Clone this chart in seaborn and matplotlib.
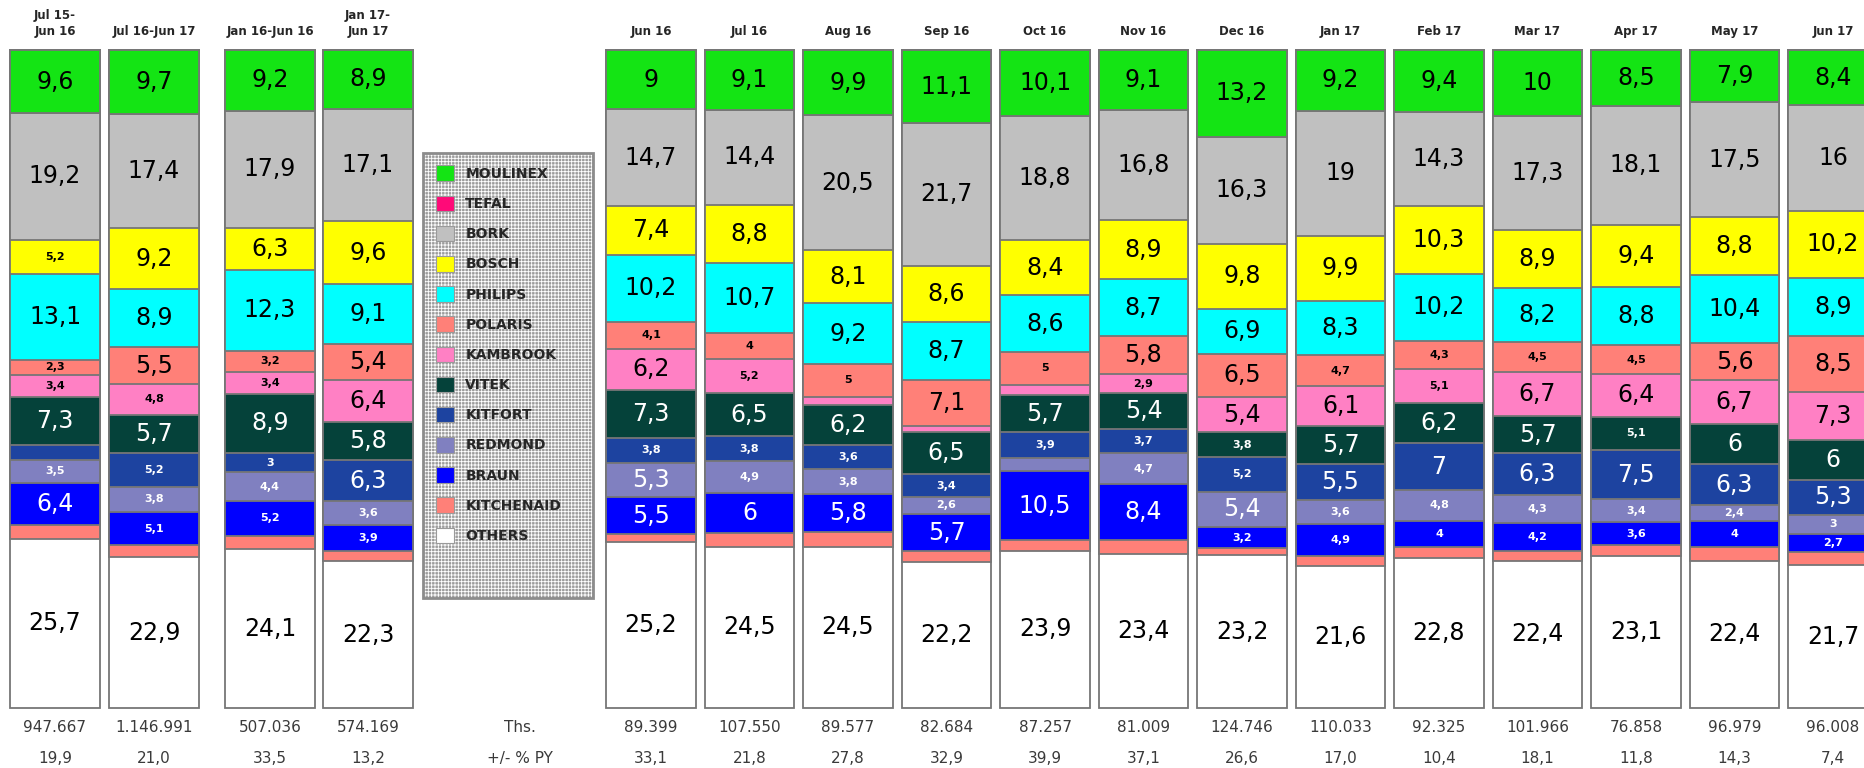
import numpy as np
import pandas as pd
import seaborn as sns
import matplotlib.pyplot as plt
from matplotlib.patches import Patch, Rectangle


periods = ["Jul 15-\nJun 16", "Jul 16-Jun 17", "Jan 16-Jun 16", "Jan 17-\nJun 17",
           "Jun 16", "Jul 16", "Aug 16", "Sep 16", "Oct 16", "Nov 16", "Dec 16",
           "Jan 17", "Feb 17", "Mar 17", "Apr 17", "May 17", "Jun 17"]

brands = ["MOULINEX", "TEFAL", "BORK", "BOSCH", "PHILIPS", "POLARIS", "KAMBROOK",
          "VITEK", "KITFORT", "REDMOND", "BRAUN", "KITCHENAID", "OTHERS"]
colors = ["#14e414", "#ff0a78", "#c0c0c0", "#ffff00", "#00ffff", "#ff8078", "#ff80c4",
          "#05423a", "#1d43a0", "#8080c0", "#0000ff", "#ff8078", "#ffffff"]

# market shares in %, top to bottom of each bar
moulinex = [9.6, 9.7, 9.2, 8.9, 9.0, 9.1, 9.9, 11.1, 10.1, 9.1, 13.2, 9.2, 9.4, 10.0, 8.5, 7.9, 8.4]
tefal = [0, 0, 0, 0, 0, 0, 0, 0, 0, 0, 0, 0, 0, 0, 0, 0, 0]
bork = [19.2, 17.4, 17.9, 17.1, 14.7, 14.4, 20.5, 21.7, 18.8, 16.8, 16.3, 19.0, 14.3, 17.3, 18.1, 17.5, 16.0]
bosch = [5.2, 9.2, 6.3, 9.6, 7.4, 8.8, 8.1, 8.6, 8.4, 8.9, 9.8, 9.9, 10.3, 8.9, 9.4, 8.8, 10.2]
philips = [13.1, 8.9, 12.3, 9.1, 10.2, 10.7, 9.2, 8.7, 8.6, 8.7, 6.9, 8.3, 10.2, 8.2, 8.8, 10.4, 8.9]
polaris = [2.3, 5.5, 3.2, 5.4, 4.1, 4.0, 5.0, 7.1, 5.0, 5.8, 6.5, 4.7, 4.3, 4.5, 4.5, 5.6, 8.5]
kambrook = [3.4, 4.8, 3.4, 6.4, 6.2, 5.2, 1.2, 0.8, 1.5, 2.9, 5.4, 6.1, 5.1, 6.7, 6.4, 6.7, 7.3]
vitek = [7.3, 5.7, 8.9, 5.8, 7.3, 6.5, 6.2, 6.5, 5.7, 5.4, 3.8, 5.7, 6.2, 5.7, 5.1, 6.0, 6.0]
kitfort = [2.2, 5.2, 3.0, 6.3, 3.8, 3.8, 3.6, 3.4, 3.9, 3.7, 5.2, 5.5, 7.0, 6.3, 7.5, 6.3, 5.3]
redmond = [3.5, 3.8, 4.4, 3.6, 5.3, 4.9, 3.8, 2.6, 2.0, 4.7, 5.4, 3.6, 4.8, 4.3, 3.4, 2.4, 3.0]
braun = [6.4, 5.1, 5.2, 3.9, 5.5, 6.0, 5.8, 5.7, 10.5, 8.4, 3.2, 4.9, 4.0, 4.2, 3.6, 4.0, 2.7]
kitchenaid = [2.1, 1.8, 2.1, 1.6, 1.3, 2.1, 2.2, 1.6, 1.6, 2.2, 1.1, 1.5, 1.6, 1.5, 1.6, 2.0, 2.0]
others = [25.7, 22.9, 24.1, 22.3, 25.2, 24.5, 24.5, 22.2, 23.9, 23.4, 23.2, 21.6, 22.8, 22.4, 23.1, 22.4, 21.7]

# total market (ths.) and growth vs previous year
volume = [947667, 1146991, 507036, 574169, 89399, 107550, 89577, 82684, 87257,
          81009, 124746, 110033, 92325, 101966, 76858, 96979, 96008]
growth = [19.9, 21.0, 33.5, 13.2, 33.1, 21.8, 27.8, 32.9, 39.9, 37.1, 26.6, 17.0,
          10.4, 18.1, 11.8, 14.3, 7.4]

df = pd.DataFrame(dict(zip(brands, [moulinex, tefal, bork, bosch, philips, polaris, kambrook,
                                    vitek, kitfort, redmond, braun, kitchenaid, others])))
cum = df.cumsum(axis=1)

sns.set_style("white")
plt.rcParams["font.family"] = ["DejaVu Sans"]
plt.rcParams["hatch.linewidth"] = 0.6

W, H = 1864, 768
fig = plt.figure(figsize=(W / 100, H / 100), dpi=100)
ax = fig.add_axes([0, 0, 1, 1])

# bar centres in pixels: 4 period bars, legend gap, 13 months
xpos = [55, 154, 270, 368] + [651 + 98.5 * i for i in range(13)]
top_px, px_pct = 50, 6.58

# stack by drawing cumulative bars, deepest first
for brand, col in reversed(list(zip(brands, colors))):
    sns.barplot(x=xpos, y=cum[brand].values, native_scale=True, orient="x",
                color=col, saturation=1, width=0.915, edgecolor="#767676",
                linewidth=1.3, errorbar=None, ax=ax)

dark = {"VITEK", "KITFORT", "REDMOND", "BRAUN"}
for i in range(len(periods)):
    for b in brands:
        v = df[b].iloc[i]
        if b == "KITCHENAID" or v < 2.3:
            continue
        yc = cum[b].iloc[i] - v / 2
        big = v >= 5.3
        ax.text(xpos[i], yc, f"{v:g}".replace(".", ","), ha="center", va="center",
                fontsize=17 if big else 8, fontweight="normal" if big else "bold",
                color="white" if b in dark else "black")
    ax.text(xpos[i], -1.8, periods[i], ha="center", va="bottom", fontsize=8.5,
            fontweight="bold", linespacing=1.3)
    ax.text(xpos[i], 103.0, f"{volume[i]:,}".replace(",", "."), ha="center",
            va="center", fontsize=11, color="#3a3a3a")
    ax.text(xpos[i], 107.6, f"{growth[i]:.1f}".replace(".", ","), ha="center",
            va="center", fontsize=11, color="#3a3a3a")

ax.text(520, 103.0, "Ths.", ha="center", va="center", fontsize=11, color="#3a3a3a")
ax.text(520, 107.6, "+/- % PY", ha="center", va="center", fontsize=11, color="#3a3a3a")

ax.set_xlim(0, W)
ax.set_ylim((H - top_px) / px_pct, -top_px / px_pct)
ax.axis("off")

# legend box with dotted grey background
lx0, ly0, lx1, ly1 = 423, 153, 593, 598
fig.add_artist(Rectangle((lx0 / W, 1 - ly1 / H), (lx1 - lx0) / W, (ly1 - ly0) / H,
                         transform=fig.transFigure, facecolor="#9c9c9c",
                         edgecolor="white", hatch="+++++", linewidth=0, zorder=1))
fig.add_artist(Rectangle((lx0 / W, 1 - ly1 / H), (lx1 - lx0) / W, (ly1 - ly0) / H,
                         transform=fig.transFigure, facecolor="none",
                         edgecolor="#8c8c8c", linewidth=2, zorder=2))
handles = [Patch(facecolor=c, edgecolor="#9a9a9a", linewidth=0.8) for c in colors]
fig.legend(handles, brands, loc="upper left", bbox_to_anchor=(lx0 / W, 1 - ly0 / H),
           frameon=False, prop={"size": 10, "weight": "bold"}, handlelength=1.35,
           handleheight=1.35, labelspacing=1.05, borderpad=0.9, handletextpad=0.8,
           borderaxespad=0)

fig.savefig("out.png", dpi=100, facecolor="white")
